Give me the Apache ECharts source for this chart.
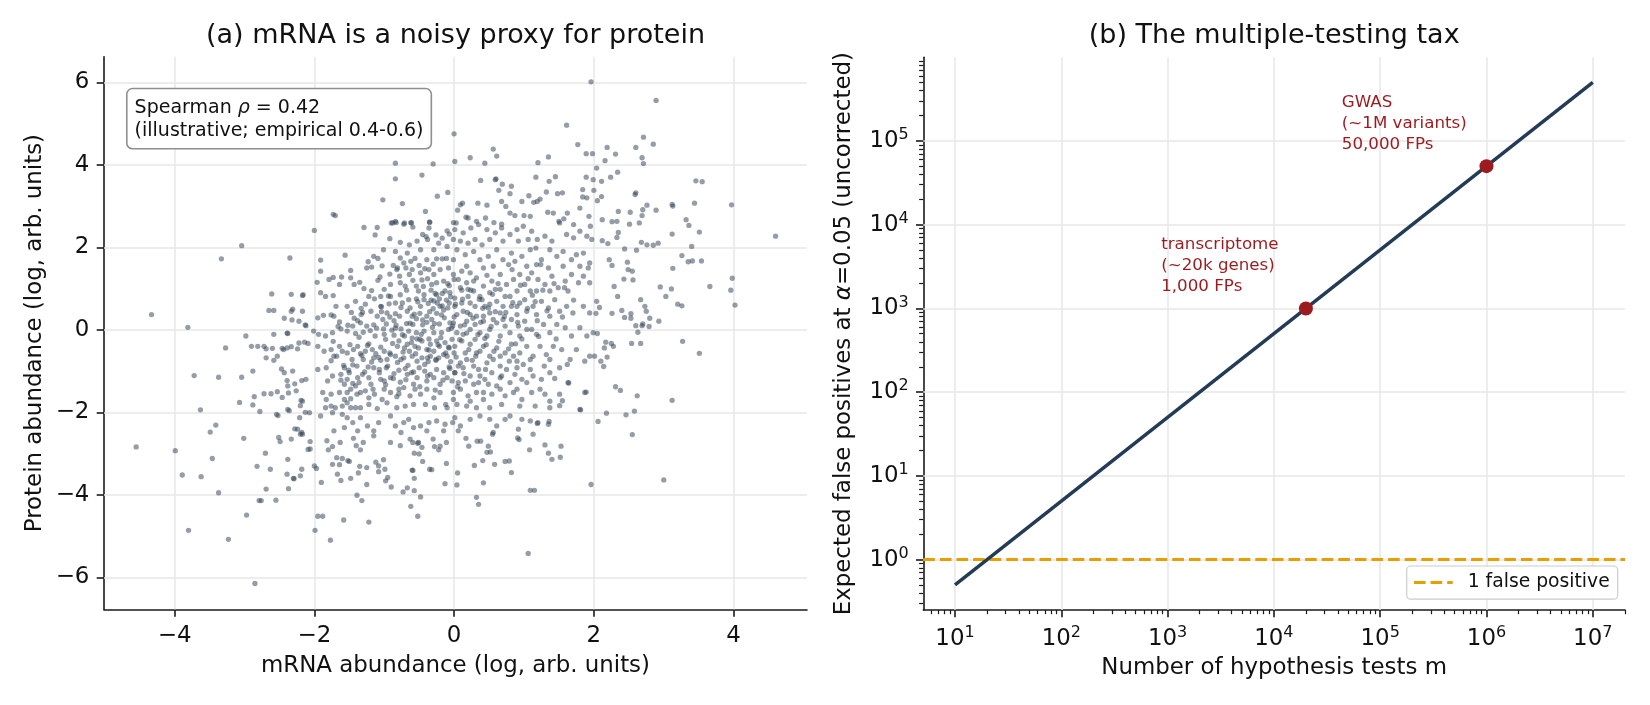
<!DOCTYPE html>
<html><head><meta charset="utf-8">
<script src="https://cdn.jsdelivr.net/npm/echarts@6/dist/echarts.min.js"></script>
<style>html,body{margin:0;padding:0;background:#fff}#chart{width:1650px;height:705px}</style>
</head><body><div id="chart"></div>
<script>
// ---------- Panel (a) data: [mRNA log abundance, protein log abundance] ----------
const outerPoints = [
[-4.33,0.37],[-3.81,0.06],[-3.33,1.72],[-3.04,2.04],[-2.35,1.74],[-2.0,2.41],[-1.73,2.8],[-1.7,2.77],[-2.61,0.87],[-2.33,0.86],[-2.17,0.83],[-2.16,0.85],[-2.65,0.47],[-2.58,0.47],[-2.43,0.28],[-2.31,0.5],
[-1.02,3.15],[-0.84,4.04],[-0.84,3.66],[-0.46,3.75],[-0.3,4.02],[0.0,4.75],[0.01,4.08],[-0.09,3.33],[-0.24,3.24],[-0.74,3.06],[-0.41,2.87],[-0.88,2.59],[-0.83,2.6],[-0.72,2.56],[-0.61,2.59],[-0.35,2.61],[-0.01,2.6],
[0.23,4.17],[0.44,4.04],[0.56,4.38],[0.61,4.21],[0.59,3.64],[0.09,3.03],[0.12,3.07],[0.34,3.07],[0.05,2.9],[0.17,2.73],[0.32,2.63],
[1.96,6.01],[2.89,5.56],[1.61,4.96],[1.35,4.19],[1.2,4.05],[1.77,4.49],[1.89,4.27],[1.98,4.27],[2.19,4.42],[2.31,4.26],[2.16,4.1],[2.6,4.42],[2.71,4.67],[2.85,4.5],[2.69,4.17],[2.71,4.03],[2.04,3.92],[1.89,3.7],[1.99,3.64],[2.11,3.6],[2.24,3.7],[2.34,3.82],[1.17,3.7],[1.36,3.6],[1.45,3.71],[0.38,3.62],[0.6,3.66],[0.69,3.53],[0.82,3.48],[0.64,3.38],[0.8,3.3],[1.07,3.25],[1.19,3.11],[1.32,3.34],[1.48,3.3],[1.55,3.32],[1.84,3.4],[2.0,3.38],[1.84,3.22],[1.9,3.2],[2.05,3.13],[2.11,3.23],[2.6,3.32],[2.59,3.28],[3.46,3.61],[3.55,3.59],[3.97,3.03],[3.12,3.04],[3.13,3.0],[3.44,3.07],[2.76,3.02],[2.89,2.9],[2.7,2.91],[2.69,2.77],[2.35,2.87],[2.52,2.85],[2.65,2.59],[2.51,2.56],[2.26,2.62],[2.33,2.63],[2.12,2.67],[3.32,2.67],[3.36,2.53],[3.51,2.37],[4.6,2.27],[3.12,2.32],[2.68,2.12],[2.76,2.06],[2.85,2.05],[2.92,2.1],[2.12,2.16],[2.2,2.09],[2.33,2.24],[2.35,2.36],[2.44,1.96],[2.61,1.93],[3.26,1.8],[3.4,2.02],[3.35,1.65],[3.41,1.67],[3.54,1.67],[2.22,1.7],[2.26,1.56],[2.48,1.64],[2.49,1.46],[2.55,1.42],[3.13,1.49],[2.43,1.23],[2.56,1.21],[2.29,1.05],[3.98,1.25],[3.96,0.96],[4.02,0.6],[3.66,1.05],[2.95,1.04],[3.11,0.99],[3.03,0.81],[3.2,0.62],[3.26,0.58],[2.34,0.81],[2.67,0.73],[2.73,0.57],[2.75,0.45],[2.8,0.28],[2.44,0.3],[2.26,0.4],[2.4,0.47],[2.53,0.39],[2.53,0.28],[2.03,0.4],[2.08,0.54],[2.04,0.69],
[0.68,3.11],[0.74,2.99],[0.87,2.77],[0.97,3.11],[1.0,2.77],[1.09,2.75],[1.14,3.09],[1.23,3.17],[1.34,2.85],[1.42,2.83],[1.5,2.63],[1.57,2.69],[1.62,2.83],[1.71,2.55],[1.8,2.95],[1.93,2.75],[1.95,2.51],[0.47,3.02],[0.2,2.71],[0.45,2.71],[0.57,2.6],[0.68,2.56],[0.8,2.83],
[3.27,-0.28],[3.51,-0.57],[2.62,-1.6],[3.12,-1.71],[3.0,-3.64],[2.31,-1.38],[2.38,-1.47],[2.58,-1.97],[2.46,-2.06],[2.55,-2.54],[2.18,-2.02],[2.06,-2.22],[1.96,-3.75],[2.54,-0.33],[2.67,-0.33],[2.63,-0.06],[2.7,0.14],[2.25,-0.33],[2.28,-0.4],[2.17,-0.3],[2.15,-0.44],[2.19,-0.66],[2.14,-0.89],[2.1,-0.76],[2.01,-0.64],[2.05,-0.09],[2.93,0.21],[2.79,0.08],[2.69,0.1],[2.6,0.1],
[1.53,-2.82],[1.52,-3.09],[1.4,-3.14],[1.35,-2.99],[1.3,-2.79],[1.13,-2.53],[1.08,-2.91],[0.82,-3.46],[0.73,-3.19],[0.79,-3.18],[1.06,-5.42],[1.09,-3.89],[1.15,-3.89],[0.58,-3.26],[0.42,-3.71],[0.32,-4.06],[0.35,-4.23],[0.29,-3.29],[0.41,-3.17],[0.49,-2.82],[0.52,-2.96],[0.47,-2.97],[0.91,-2.62],[0.93,-2.66],[0.55,-2.53],[0.33,-2.7],[0.38,-2.7],[0.21,-2.82],[0.17,-2.63],[0.05,-3.47],[0.04,-3.76],
[1.64,-1.29],[1.55,-1.72],[1.51,-1.84],[1.36,-2.22],[1.19,-2.27],[1.81,-1.94],[1.89,-1.51],
[-4.55,-2.84],[-3.99,-2.93],[-3.72,-1.11],[-3.63,-1.94],[-3.37,-1.15],[-3.27,-0.44],[-3.04,-1.15],[-2.98,-0.15],[-2.88,-1.0],[-3.07,-1.76],[-2.86,-1.62],[-2.88,-1.82],[-2.78,-1.98],[-3.41,-2.31],[-3.49,-2.48],[-3.46,-3.12],[-3.01,-2.63],[-3.89,-3.52],[-3.62,-3.56],[-3.37,-3.95],[-3.8,-4.86],[-3.23,-5.08],[-2.97,-4.49],[-2.85,-6.15],[-2.82,-3.31],[-2.69,-3.86],[-2.79,-4.14],[-2.76,-4.14],[-2.55,-4.13],[-2.63,-3.38],[-2.7,-2.99],[-2.39,-3.5],[-2.3,-3.6],[-2.29,-3.61],[-2.2,-3.54],[-2.37,-3.85],[-2.51,-2.61],[-2.49,-2.71],[-2.54,-2.05],[-2.52,-2.08],[-2.36,-1.96],[-2.28,-2.4],[-2.2,-2.53],[-2.18,-2.49],[-2.46,-1.64],[-2.37,-1.53],[-2.72,-1.55],[-2.62,-1.55],[-2.53,-1.5],[-2.47,-0.95],[-2.39,-1.23],[-2.31,-1.0],[-2.28,-1.31],[-2.18,-1.23],[-2.69,-0.68],[-2.58,-0.74],[-2.53,-0.64],[-2.9,-0.4],[-2.81,-0.4],[-2.72,-0.4],[-2.69,-0.46],[-2.6,-0.45],[-2.46,-0.45],[-2.44,-0.48],[-2.39,-0.44],[-2.33,-0.41],[-2.22,-0.32],[-2.14,-0.3],[-2.32,0.24],[-2.22,0.21],[-2.58,-0.11],[-2.39,-0.08],[-2.01,-0.03],[-2.13,0.12],[-2.2,-1.84],[-2.19,-1.71],[-2.13,-2.0],[-2.06,-2.89],[-2.06,-2.71],[-1.99,-4.86],[-1.95,-4.52],[-1.88,-4.52],[-1.77,-5.1],[-1.58,-4.61],[-1.22,-4.66],[-1.39,-4.01],[-1.32,-4.14],[-1.9,-3.7],[-2.0,-3.3],[-1.97,-3.36],[-1.62,-3.65],[-1.48,-3.6],[-1.37,-3.47],[-1.25,-3.34],[-1.25,-3.75],[-1.67,-3.5],[-1.74,-3.26],[-1.64,-3.27],[-1.8,-2.91],[-1.74,-2.83],[-1.68,-3.1],[-1.6,-3.12],[-1.52,-3.17],[-1.5,-3.19],[-1.4,-2.81],[-1.34,-2.91],[-1.35,-3.31],[-1.12,-3.21],[-1.08,-3.3],[-1.08,-3.44],[-1.01,-3.15],[-0.99,-3.38],[-0.98,-3.66],[-0.95,-3.58],[-0.9,-3.81],[-0.73,-3.93],[-0.67,-3.83],[-0.57,-3.9],[-0.62,-4.28],[-0.52,-4.52],[-0.6,-3.4],[-0.59,-3.41],[-0.57,-3.6],[-0.48,-4.05],[-0.35,-3.38],[-0.32,-3.39],[-0.13,-3.73],[-0.11,-3.24],[-0.2,-2.82],[-0.11,-2.73],[-0.28,-2.83],[-0.22,-2.91],[-0.45,-3.19],[-0.57,-2.99],[-0.5,-3.01],[-0.59,-2.73],[-0.51,-2.73],[-0.52,-2.75],
[-1.82,-2.69],[-1.63,-2.73],[-1.44,-2.63],[-1.3,-2.73],[-1.15,-2.57],[-0.91,-2.73],[-0.77,-2.81],[-0.63,-2.65],[-0.46,-2.85],[-0.3,-2.65],
[-2.12,0.1],[-2.33,0.45],[-2.17,0.45],[-2.38,-0.09],[-2.24,-0.46],[-2.09,-0.33],[-2.43,-1.04],[-2.12,-1.2],[-2.38,-1.36],[-2.26,-1.48],[-2.17,-1.73],[-2.38,-1.93],[-2.21,-2.13],[-2.07,-2.01],[-2.24,-2.41],[-2.17,-2.53],[-2.33,-2.65],[-2.09,-2.9],[-2.38,-3.14],[-2.18,-3.38]
];
const coreLeftPoints = [
[-1.29,2.48],[-1.1,2.48],[-1.13,2.3],[-0.92,2.21],[-0.9,2.59],[-0.84,2.63],[-0.71,2.59],[-0.62,2.6],[-0.59,2.49],[-0.77,2.12],[-0.64,2.06],[-0.53,2.15],[-0.45,2.31],[-0.4,2.26],[-0.38,2.19],[-0.35,2.61],[-0.36,2.47],[-0.26,2.3],[-0.17,2.22],[-0.1,2.4],[-0.07,2.32],[-0.01,2.19],[0.03,2.59],
[-1.01,1.94],[-1.15,1.78],[-1.09,1.73],[-1.23,1.65],[-1.18,1.52],[-1.25,1.5],[-1.03,1.55],[-0.87,1.56],[-0.81,1.5],[-0.77,1.74],[-0.69,1.5],[-0.62,1.66],[-0.56,1.73],[-0.5,1.56],[-0.42,1.48],[-0.36,1.46],[-0.3,1.59],[-0.25,1.72],[-0.17,1.72],[-0.11,1.73],[-0.01,1.7],[-0.08,1.5],[-1.56,1.81],[-1.91,1.69],
[-1.91,1.42],[-1.96,1.15],[-1.79,1.22],[-1.73,1.27],[-1.64,1.1],[-1.61,1.28],[-1.48,1.44],[-1.48,1.26],[-1.43,1.1],[-1.35,1.15],[-1.29,1.0],[-1.18,0.95],[-1.06,1.28],[-1.09,1.2],[-0.92,1.35],[-0.82,1.46],[-0.78,1.3],[-0.77,1.14],[-0.64,1.34],[-0.7,1.06],[-0.59,1.2],[-0.54,1.06],[-0.46,1.21],[-0.38,1.24],[-0.32,1.1],[-0.25,1.14],[-0.15,1.18],[-0.07,1.07],[0.0,1.22],
[-1.91,0.9],[-1.84,0.81],[-1.73,0.83],[-1.69,0.57],[-1.53,0.57],[-1.41,0.69],[-1.33,0.52],[-1.31,0.42],[-1.22,0.81],[-1.14,0.75],[-1.05,0.81],[-1.04,0.56],[-0.93,0.63],[-0.84,0.39],[-0.74,0.65],[-0.67,0.45],[-0.63,0.53],[-0.54,0.75],[-0.43,0.73],[-0.37,0.64],[-0.29,0.7],[-0.21,0.75],[-0.17,0.88],[-0.2,0.57],[-0.11,0.72],[-0.05,0.8],[-0.09,0.53],[0.01,0.57],
[-1.95,0.29],[-1.87,0.35],[-1.76,0.36],[-1.72,0.33],[-1.64,0.19],[-1.52,0.11],[-1.43,0.28],[-1.33,0.37],[-1.25,0.09],[-1.2,-0.02],[-1.11,0.04],[-1.02,0.25],[-0.92,0.31],[-0.97,0.14],[-0.83,0.11],[-0.78,0.33],[-0.68,0.15],[-0.59,0.13],[-0.54,0.27],[-0.45,0.12],[-0.39,0.18],[-0.32,0.25],[-0.25,0.4],[-0.21,0.14],[-0.06,0.17],[-0.02,0.09],[-0.36,-0.22],[-0.49,-0.23],[-0.6,-0.2],[-0.71,-0.15],[-0.86,-0.13],[-1.0,-0.11],[-1.13,-0.15],[-1.3,-0.06],[-1.41,-0.09],[-1.53,-0.03],[-1.62,0.02],[-1.74,-0.07],[-1.84,-0.15],[-1.94,-0.11],
[-1.95,-0.4],[-1.86,-0.52],[-1.76,-0.48],[-1.68,-0.64],[-1.6,-0.52],[-1.49,-0.36],[-1.44,-0.48],[-1.34,-0.58],[-1.24,-0.38],[-1.17,-0.48],[-1.08,-0.67],[-1.0,-0.52],[-0.91,-0.6],[-0.81,-0.4],[-0.73,-0.54],[-0.64,-0.52],[-0.56,-0.4],[-0.46,-0.27],[-0.39,-0.48],[-0.29,-0.52],[-0.21,-0.4],[-0.15,-0.6],[-0.07,-0.44],[0.0,-0.56],[-1.76,-0.75],[-1.46,-0.72],[-1.3,-0.72],[-1.05,-0.74],[-0.76,-0.72],[-0.53,-0.76],[-0.37,-0.77],[-0.26,-0.72],[-0.05,-0.77],
[-1.95,-0.96],[-1.83,-0.92],[-1.74,-1.12],[-1.62,-1.08],[-1.53,-1.2],[-1.45,-1.3],[-1.31,-1.08],[-1.23,-0.9],[-1.15,-0.92],[-1.07,-1.04],[-0.97,-0.92],[-0.86,-1.06],[-0.79,-0.98],[-0.7,-0.94],[-0.61,-1.04],[-0.5,-0.92],[-0.42,-1.0],[-0.34,-1.08],[-0.25,-0.96],[-0.15,-1.04],[-0.07,-0.9],[0.01,-1.04],[-1.81,-1.24],[-1.57,-1.32],[-1.36,-1.28],[-1.19,-1.32],[-1.0,-1.24],[-0.77,-1.27],[-0.58,-1.32],[-0.39,-1.24],[-0.2,-1.32],[-0.03,-1.24],
[-1.88,-1.52],[-1.76,-1.56],[-1.64,-1.52],[-1.53,-1.52],[-1.48,-1.67],[-1.39,-1.56],[-1.27,-1.48],[-1.14,-1.56],[-1.0,-1.44],[-0.91,-1.52],[-0.82,-1.62],[-0.72,-1.4],[-0.63,-1.6],[-0.48,-1.56],[-0.39,-1.44],[-0.29,-1.65],[-0.2,-1.52],[-0.12,-1.81],[-0.01,-1.69],[-1.84,-1.89],[-1.7,-1.89],[-1.6,-1.85],[-1.48,-1.89],[-1.34,-1.89],[-1.22,-1.81],[-1.1,-1.91],[-0.96,-1.77],[-0.82,-1.89],[-0.7,-1.85],[-0.58,-1.81],[-0.41,-1.81],[-0.28,-1.89],[-0.1,-1.89],
[-1.91,-2.09],[-1.74,-2.01],[-1.6,-2.05],[-1.53,-2.13],[-1.45,-2.25],[-1.34,-2.13],[-1.24,-2.33],[-1.08,-2.25],[-0.91,-2.09],[-0.84,-2.33],[-0.72,-2.25],[-0.65,-2.17],[-0.58,-2.37],[-0.48,-2.33],[-0.36,-2.25],[-0.25,-2.21],[-0.13,-2.29],[-0.02,-2.25],[-1.72,-2.45],[-1.57,-2.37],[-1.38,-2.45],[-1.15,-2.45],[-0.76,-2.49],[-0.39,-2.45],[-0.15,-2.45],
[-0.51,0.94],[-0.43,0.85],[-0.33,0.96],[-0.25,0.85],[-0.13,0.94],[-0.06,0.9],[-0.48,0.57],[-0.3,0.51],[-0.24,0.65],[-0.15,0.48],[-0.07,0.65],[-0.6,0.33],[-0.49,0.4],[-0.39,0.33],[-0.28,0.15],[-0.14,0.29],[-0.08,0.01],[-0.18,-0.07],[-0.29,-0.07],[-0.43,-0.03],[-0.54,-0.07],[-0.65,-0.03],[-0.76,0.02],[-0.89,-0.01],[-0.98,-0.23],[-0.79,-0.27],[-0.67,-0.35],[-0.51,-0.44],[-0.34,-0.35],[-0.25,-0.27],[-0.13,-0.31],[-0.03,-0.23],[-0.1,-0.64],[-0.22,-0.68],[-0.34,-0.64],[-0.46,-0.68],[-0.6,-0.64],[-0.72,-0.68],[-0.84,-0.64],[-0.96,-0.72],[-1.15,-0.68],[-1.27,-0.52],[-1.38,-0.4],[-1.53,-0.56],[-1.64,-0.4],[-1.72,-0.64],[-1.39,-0.88],[-1.5,-1.04],[-1.57,-0.92],[-1.38,-1.16],[-1.22,-1.16],[-1.05,-1.2],[-0.91,-1.16],[-0.67,-1.08],[-0.53,-1.16],[-0.29,-1.16],[-0.1,-1.16],[-1.48,-1.44],[-1.34,-1.52],[-1.22,-1.65],[-1.03,-1.69],[-0.79,-1.44],[-0.56,-1.44],[-1.53,-1.77],[-1.41,-1.89],[-1.57,-1.69],[-1.76,-1.85],[-1.83,-1.69],
[-1.05,0.57],[-0.91,0.81],[-0.84,0.65],[-0.77,0.85],[-0.65,0.73],[-0.96,0.41],[-1.1,0.33],[-1.19,0.45],[-1.34,0.17],[-1.45,0.09],[-1.0,0.98],[-0.91,1.1],[-0.48,1.38],[-0.29,1.34],[-0.2,1.46],[-0.6,1.46],[-0.72,1.62],[-0.39,1.7],[-0.29,1.94],[-0.48,1.94],[-0.67,1.86],[-0.84,1.9],[-0.1,2.02],[-0.22,2.1]
];
const coreRightPoints = [
[0.01,2.43],[0.13,2.35],[0.24,2.47],[0.35,2.55],[0.47,2.43],[0.59,2.35],[0.68,2.47],[0.8,2.31],[0.9,2.43],[0.99,2.51],[1.11,2.39],[1.19,2.19],[1.3,2.27],[1.4,2.15],[1.51,2.59],[1.61,2.31],[1.71,2.23],[1.8,2.39],[1.9,2.27],[1.97,2.19],[0.09,2.15],[0.2,2.1],[0.3,2.19],[0.4,2.06],[0.51,2.19],[0.7,2.15],[0.92,2.15],[1.06,2.19],
[0.04,1.94],[0.16,1.82],[0.28,1.9],[0.37,1.7],[0.49,1.78],[0.61,1.94],[0.7,1.7],[0.82,1.86],[0.87,1.66],[0.97,1.78],[1.09,1.94],[1.17,1.98],[1.25,1.7],[1.37,1.94],[1.47,1.78],[1.56,1.9],[1.68,1.7],[1.75,1.82],[1.85,1.86],[1.94,1.62],[0.18,1.54],[0.42,1.5],[0.56,1.54],[0.78,1.58],[1.04,1.54],[1.18,1.58],[1.35,1.5],[1.56,1.54],[1.8,1.54],[1.92,1.5],
[-0.01,1.34],[0.11,1.42],[0.23,1.38],[0.32,1.26],[0.42,1.06],[0.54,1.18],[0.66,1.34],[0.75,1.1],[0.85,1.22],[0.94,1.34],[1.01,1.1],[1.11,1.38],[1.2,1.22],[1.3,1.1],[1.4,1.3],[1.49,1.02],[1.59,1.18],[1.68,1.34],[1.78,1.14],[1.85,1.3],[1.94,1.14],[0.09,1.02],[0.2,0.98],[0.66,0.98],[0.9,0.94],[1.18,0.94],[1.37,0.94],[1.63,0.94],
[0.01,0.77],[0.11,0.65],[0.2,0.81],[0.3,0.57],[0.4,0.73],[0.49,0.53],[0.61,0.69],[0.73,0.81],[0.82,0.57],[0.94,0.65],[1.04,0.45],[1.13,0.57],[1.25,0.69],[1.35,0.53],[1.44,0.73],[1.51,0.45],[1.61,0.57],[1.7,0.41],[1.85,0.57],[1.94,0.41],[0.04,0.37],[0.23,0.37],[0.42,0.33],[0.66,0.41],[0.9,0.37],[1.18,0.37],[1.37,0.33],
[-0.01,0.17],[0.09,0.09],[0.18,0.21],[0.3,0.13],[0.42,0.21],[0.51,0.01],[0.61,0.17],[0.73,0.09],[0.82,0.25],[0.92,0.09],[1.01,0.21],[1.11,0.01],[1.28,0.13],[1.37,-0.07],[1.47,0.13],[1.59,0.05],[1.68,-0.15],[1.8,0.05],[1.9,-0.15],[1.99,-0.07],[0.13,-0.11],[0.37,-0.07],[0.66,-0.15],[0.94,-0.15],[1.18,-0.11],
[0.01,-0.4],[0.11,-0.27],[0.23,-0.35],[0.32,-0.56],[0.42,-0.4],[0.51,-0.64],[0.61,-0.44],[0.73,-0.56],[0.82,-0.35],[0.94,-0.56],[1.04,-0.4],[1.13,-0.64],[1.23,-0.4],[1.32,-0.6],[1.42,-0.4],[1.54,-0.48],[1.66,-0.72],[1.75,-0.48],[1.87,-0.76],[1.94,-0.64],[0.18,-0.72],[0.56,-0.72],[0.9,-0.76],[1.37,-0.72],
[0.01,-1.04],[0.13,-0.92],[0.23,-1.12],[0.35,-0.96],[0.44,-1.2],[0.54,-1.04],[0.66,-1.16],[0.75,-0.96],[0.87,-1.08],[0.97,-1.2],[1.09,-0.96],[1.13,-1.12],[1.25,-1.2],[1.37,-1.04],[1.51,-0.92],[1.63,-1.28],[0.06,-1.28],[0.28,-1.32],[0.49,-1.32],[0.8,-1.28],[1.04,-1.28],
[-0.01,-1.52],[0.09,-1.44],[0.2,-1.6],[0.32,-1.52],[0.42,-1.69],[0.54,-1.56],[0.66,-1.44],[0.73,-1.6],[0.85,-1.52],[0.97,-1.69],[1.11,-1.52],[1.23,-1.44],[1.3,-1.56],[1.37,-1.73],[1.51,-1.56],[0.04,-1.81],[0.18,-1.85],[0.32,-1.89],[0.51,-1.89],[0.68,-1.81],[0.94,-1.85],[1.16,-1.85],[1.37,-1.89],[1.87,-1.52],[1.8,-1.93],
[0.01,-2.13],[0.09,-2.33],[0.23,-2.17],[0.37,-2.09],[0.51,-2.17],[0.61,-2.33],[0.73,-2.17],[0.8,-2.09],[0.97,-2.17],[1.09,-2.21],[1.2,-2.25],[1.35,-2.29],[0.06,-2.45],[0.56,-2.49],[0.92,-2.41],
[0.06,1.22],[0.18,1.14],[0.28,0.94],[0.37,0.81],[0.51,0.9],[0.59,0.98],[0.44,0.57],[0.23,0.65],[0.13,0.45],[0.32,0.33],[0.51,0.41],[0.7,0.57],[0.8,0.81],[1.01,0.73],[1.09,0.94],[0.9,0.57],[0.56,0.25],[0.7,0.25],[0.23,0.01],[0.04,-0.07],[0.3,-0.23],[0.47,-0.15],[0.8,-0.07],[1.04,0.01],[0.16,-0.56],[0.37,-0.52],[0.66,-0.64],[0.85,-0.64],[1.09,-0.72],[0.09,-0.8],[0.28,-0.88],[0.47,-0.8],[0.66,-0.88],[0.9,-0.92],[0.16,-1.24],[0.37,-1.12],[0.61,-1.36],[0.9,-1.44],[0.23,-1.73],[0.42,-1.52]
];
const denseCenterPoints = [
[-1.45,-0.85],[-1.32,-0.62],[-1.18,-0.78],[-1.05,-0.42],[-0.95,-0.88],[-0.88,-0.33],[-0.81,-0.79],[-0.74,-0.12],[-0.66,-0.86],[-0.61,-0.31],[-0.55,-0.58],[-0.47,-0.11],[-0.42,-0.84],[-0.36,-0.49],[-0.31,0.06],[-0.26,-0.74],[-0.19,-0.19],[-0.12,-0.56],[-0.04,0.04],[0.03,-0.66],[0.08,-0.24],[0.15,0.12],[0.21,-0.48],[0.27,0.28],[0.34,-0.12],[0.41,0.52],[0.46,-0.36],[0.53,0.08],[0.59,0.44],[0.64,-0.28],[0.72,0.32],[0.78,-0.46],[0.84,0.66],[0.91,0.18],[0.97,-0.22],[1.05,0.52],[1.12,0.84],[1.19,0.22],[1.27,0.96],[1.33,0.46],
[-1.62,-1.22],[-1.51,-0.98],[-1.41,-1.36],[-1.28,-1.02],[-1.16,-1.44],[-1.07,-0.96],[-0.98,-1.33],[-0.87,-1.18],[-0.79,-1.55],[-0.69,-1.21],[-0.58,-1.02],[-0.49,-1.38],[-0.38,-1.12],[-0.27,-1.46],[-0.16,-1.22],[-0.06,-0.94],[0.05,-1.38],[0.14,-1.06],[0.26,-0.74],[0.35,-1.28],[0.45,-0.96],[0.57,-0.52],[0.68,-1.12],[0.79,-0.76],[0.88,-0.34],[0.99,-0.84],
[-1.38,0.22],[-1.27,0.62],[-1.15,0.12],[-1.04,0.44],[-0.94,0.82],[-0.86,0.22],[-0.76,0.54],[-0.68,0.96],[-0.57,0.38],[-0.52,0.68],[-0.44,1.05],[-0.35,0.44],[-0.27,0.88],[-0.18,0.36],[-0.09,1.12],[0.02,0.62],[0.11,0.96],[0.19,0.42],[0.28,1.18],[0.36,0.74],[0.47,1.32],[0.55,0.86],[0.63,1.12],[0.74,0.42],[0.83,1.46],[0.95,1.08],[1.06,1.24],[1.16,0.68],[1.24,1.58],[1.43,1.12],
[-0.92,-0.56],[-0.84,0.04],[-0.71,-0.44],[-0.63,0.16],[-0.53,-0.22],[-0.45,0.24],[-0.38,-0.68],[-0.33,0.72],[-0.23,-0.36],[-0.17,0.58],[-0.08,-0.42],[0.0,0.31],[0.06,-0.88],[0.12,0.74],[0.18,-0.08],[0.24,0.96],[0.31,-0.64],[0.38,0.18],[0.44,-0.21],[0.51,0.62],
[-1.73,-0.28],[-1.66,0.08],[-1.58,-0.86],[-1.47,0.42],[-1.36,-0.18],[-1.22,-0.34],[-1.12,-0.58],[-1.01,0.02],[1.46,-0.22],[1.55,0.31],[1.62,-0.84],[1.71,0.72],[1.58,1.02],[1.44,-1.18],[1.29,-0.88],[1.21,-0.16]
];

// ---------- Panel (b) data ----------
const testsM = [10, 1e7];              // number of hypothesis tests m (line end points)
const expectedFP = [0.5, 5e5];         // expected false positives at alpha = 0.05
const highlightM = [2e4, 1e6];
const highlightFP = [1000, 50000];
const highlightLabels = ['transcriptome\n(~20k genes)\n1,000 FPs', 'GWAS\n(~1M variants)\n50,000 FPs'];
const thresholdFP = 1;

// ---------- Tick values and labels ----------
const leftXTicks = [-4, -2, 0, 2, 4];
const leftXTickLabels = ['\u22124', '\u22122', '0', '2', '4'];
const leftYTicks = [-6, -4, -2, 0, 2, 4, 6];
const leftYTickLabels = ['\u22126', '\u22124', '\u22122', '0', '2', '4', '6'];
const rightXTicks = [10, 100, 1000, 10000, 100000, 1000000, 10000000];
const rightXTickExp = ['1', '2', '3', '4', '5', '6', '7'];
const rightYTicks = [1, 10, 100, 1000, 10000, 100000];
const rightYTickExp = ['0', '1', '2', '3', '4', '5'];

const FONT = "'DejaVu Sans', sans-serif";
const INK = '#111111';
const SPINE = '#1a1a1a';
const GRID = '#e7e7e7';
const ORANGE = '#E69F00';

const L = { xmin: -5.01, xmax: 5.05, ymin: -6.78, ymax: 6.62 };
const R = { xmin: 5.03, xmax: 2.01e7, ymin: 0.2506, ymax: 9.977e5 };

function minorLogTicks(lo, hi) {
  const out = [];
  for (let d = 0.1; d <= 1e8; d *= 10) {
    for (let k = 2; k <= 9; k++) {
      const v = Number((k * d).toPrecision(6));
      if (v >= lo && v <= hi) out.push(v);
    }
  }
  return out;
}
const rightXMinor = minorLogTicks(R.xmin, R.xmax);
const rightYMinor = minorLogTicks(R.ymin, R.ymax);

function lookup(ticks, labels, v) {
  for (let i = 0; i < ticks.length; i++) {
    if (Math.abs(ticks[i] - v) < 1e-9 * Math.max(1, Math.abs(ticks[i]))) return labels[i];
  }
  return '';
}
function logLabel(ticks, exps) {
  return function (v) {
    for (let i = 0; i < ticks.length; i++) {
      if (Math.abs(Math.log10(v / ticks[i])) < 1e-6) return '{b|10}{e|' + exps[i] + '}';
    }
    return '';
  };
}

const spine = { show: true, onZero: false, lineStyle: { color: SPINE, width: 1.6 } };
const majorTick = (vals) => ({ show: true, inside: false, length: 7.3, customValues: vals, lineStyle: { color: SPINE, width: 1.6 } });
const plainLabel = { fontFamily: FONT, fontSize: 22.9, color: INK, margin: 14.6, hideOverlap: false };
const supRich = {
  b: { fontFamily: FONT, fontSize: 22.9, color: INK, lineHeight: 28 },
  e: { fontFamily: FONT, fontSize: 16, color: INK, lineHeight: 16, verticalAlign: 'top' }
};
const nameStyle = { fontFamily: FONT, fontSize: 22.9, color: INK, lineHeight: 26 };

const chart = echarts.init(document.getElementById('chart'), null, { renderer: 'canvas' });

const option = {
  animation: false,
  backgroundColor: '#ffffff',
  title: [
    { text: '(a) mRNA is a noisy proxy for protein', left: 455.5, top: 19.7, textAlign: 'center', padding: 0,
      textStyle: { fontFamily: FONT, fontSize: 27, fontWeight: 'normal', color: INK, lineHeight: 32 } },
    { text: '(b) The multiple-testing tax', left: 1274.2, top: 19.7, textAlign: 'center', padding: 0,
      textStyle: { fontFamily: FONT, fontSize: 27, fontWeight: 'normal', color: INK, lineHeight: 32 } }
  ],
  grid: [
    { left: 104, top: 56.7, width: 703, height: 552.8 },
    { left: 923.3, top: 57.3, width: 701.7, height: 552.7 }
  ],
  xAxis: [
    { type: 'value', gridIndex: 0, min: L.xmin, max: L.xmax,
      axisLine: spine, axisTick: majorTick(leftXTicks), splitLine: { show: false },
      axisLabel: Object.assign({}, plainLabel, { customValues: leftXTicks, formatter: v => lookup(leftXTicks, leftXTickLabels, v) }),
      name: 'mRNA abundance (log, arb. units)', nameLocation: 'middle', nameGap: 43.5, nameTextStyle: nameStyle },
    { type: 'log', logBase: 10, gridIndex: 1, min: R.xmin, max: R.xmax,
      axisLine: spine, axisTick: majorTick(rightXTicks), splitLine: { show: false }, minorTick: { show: false },
      axisLabel: Object.assign({}, plainLabel, { customValues: rightXTicks, formatter: logLabel(rightXTicks, rightXTickExp), rich: supRich }),
      name: 'Number of hypothesis tests m', nameLocation: 'middle', nameGap: 45, nameTextStyle: nameStyle },
    { type: 'log', logBase: 10, gridIndex: 1, min: R.xmin, max: R.xmax, position: 'bottom',
      axisLine: { show: false }, axisLabel: { show: false }, splitLine: { show: false },
      axisTick: { show: true, inside: false, length: 4.2, customValues: rightXMinor, lineStyle: { color: SPINE, width: 1.2 } } }
  ],
  yAxis: [
    { type: 'value', gridIndex: 0, min: L.ymin, max: L.ymax,
      axisLine: spine, axisTick: majorTick(leftYTicks), splitLine: { show: false },
      axisLabel: Object.assign({}, plainLabel, { customValues: leftYTicks, formatter: v => lookup(leftYTicks, leftYTickLabels, v) }),
      name: 'Protein abundance (log, arb. units)', nameLocation: 'middle', nameGap: 56.3, nameTextStyle: nameStyle },
    { type: 'log', logBase: 10, gridIndex: 1, min: R.ymin, max: R.ymax,
      axisLine: spine, axisTick: majorTick(rightYTicks), splitLine: { show: false }, minorTick: { show: false },
      axisLabel: Object.assign({}, plainLabel, { customValues: rightYTicks, formatter: logLabel(rightYTicks, rightYTickExp), rich: supRich }),
      name: 'Expected false positives at {i|\u03b1}=0.05 (uncorrected)', nameLocation: 'middle', nameGap: 66.3,
      nameTextStyle: Object.assign({}, nameStyle, { rich: { i: { fontFamily: FONT, fontSize: 22.9, fontStyle: 'italic', color: INK, lineHeight: 26 } } }) },
    { type: 'log', logBase: 10, gridIndex: 1, min: R.ymin, max: R.ymax, position: 'left',
      axisLine: { show: false }, axisLabel: { show: false }, splitLine: { show: false },
      axisTick: { show: true, inside: false, length: 4.2, customValues: rightYMinor, lineStyle: { color: SPINE, width: 1.2 } } }
  ],
  legend: {
    data: [{ name: '1 false positive', icon: 'path://M0,0h11.6v3h-11.6z M16.6,0h11.6v3h-11.6z M33.2,0h5.5v3h-5.5z',
             itemStyle: { color: ORANGE } }],
    left: 1406.7, top: 566, orient: 'horizontal', selectedMode: false,
    itemWidth: 38.7, itemHeight: 3, padding: [6.6, 8, 6.6, 7.3],
    backgroundColor: 'rgba(255,255,255,0.85)', borderColor: '#cccccc', borderWidth: 1.2, borderRadius: 4,
    textStyle: { fontFamily: FONT, fontSize: 18.75, color: INK, lineHeight: 20, padding: [0, 0, 0, 10] }
  },
  graphic: [
    { type: 'text', left: 126, top: 87.7, z: 100, silent: true,
      style: {
        text: '{n|Spearman }{i|\u03c1}{n| = 0.42}\n{n|(illustrative; empirical 0.4-0.6)}',
        rich: {
          n: { fontFamily: FONT, fontSize: 19, fill: INK, lineHeight: 23.6 },
          i: { fontFamily: FONT, fontSize: 19, fontStyle: 'italic', fill: INK, lineHeight: 23.6 }
        },
        fill: INK, backgroundColor: '#ffffff', borderColor: '#8f8f8f', borderWidth: 1.6, borderRadius: 5,
        padding: [6.5, 7, 5, 7]
      } }
  ],
  series: [
    { type: 'scatter', name: 'genes', xAxisIndex: 0, yAxisIndex: 0, silent: true, z: 2,
      data: outerPoints.concat(coreLeftPoints, coreRightPoints, denseCenterPoints),
      symbol: 'circle', symbolSize: 5.3,
      itemStyle: { color: '#2c3e50', opacity: 0.5, borderWidth: 0 },
      markLine: { silent: true, z: 1, symbol: ['none', 'none'], label: { show: false },
        lineStyle: { color: GRID, width: 1.5, type: 'solid' },
        data: leftXTicks.map(v => ({ xAxis: v })).concat(leftYTicks.map(v => ({ yAxis: v }))) } },
    { type: 'line', name: 'uncorrected', xAxisIndex: 1, yAxisIndex: 1, silent: true, z: 4,
      data: testsM.map((m, i) => [m, expectedFP[i]]), symbol: 'none',
      lineStyle: { color: '#243b55', width: 3.5 },
      markLine: { silent: true, z: 1, symbol: ['none', 'none'], label: { show: false },
        lineStyle: { color: GRID, width: 1.5, type: 'solid' },
        data: rightXTicks.map(v => ({ xAxis: v })).concat(rightYTicks.map(v => ({ yAxis: v }))) } },
    { type: 'line', name: '1 false positive', xAxisIndex: 1, yAxisIndex: 1, silent: true, z: 3,
      data: [], symbol: 'none', showSymbol: false,
      lineStyle: { color: ORANGE, width: 3, type: [11.6, 5] },
      itemStyle: { color: ORANGE },
      markLine: { silent: true, z: 3, symbol: ['none', 'none'], label: { show: false },
        lineStyle: { color: ORANGE, width: 3, type: [11.6, 5] },
        data: [{ yAxis: thresholdFP }] } },
    { type: 'scatter', name: 'examples', xAxisIndex: 1, yAxisIndex: 1, silent: true, z: 5,
      data: highlightM.map((m, i) => [m, highlightFP[i]]),
      symbol: 'circle', symbolSize: 14,
      itemStyle: { color: '#9b1b1f', opacity: 1 },
      label: { show: true, position: 'inside', align: 'left', verticalAlign: 'top', offset: [-144.7, -74],
        formatter: p => highlightLabels[p.dataIndex],
        color: '#9b1b1f', fontFamily: FONT, fontSize: 16.7, lineHeight: 20.8 } }
  ]
};
chart.setOption(option);
</script></body></html>
